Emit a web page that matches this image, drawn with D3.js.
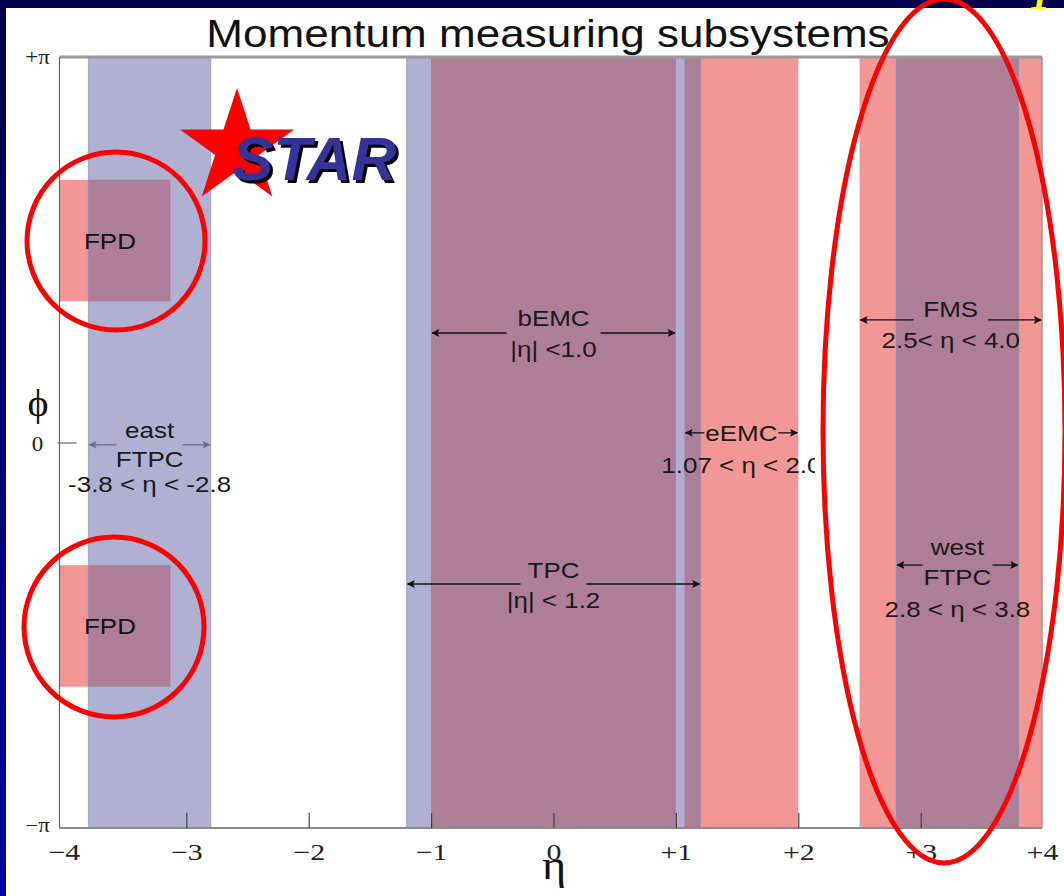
<!DOCTYPE html>
<html>
<head>
<meta charset="utf-8">
<script src="https://cdn.jsdelivr.net/npm/d3@7/dist/d3.min.js"></script>
<style>
  html, body { margin: 0; padding: 0; background: #000060; }
  svg { display: block; }
</style>
</head>
<body>
<svg id="chart" width="1064" height="896"></svg>
<script>
const PI = Math.PI;

// ---- data ----
const chartTitle = "Momentum measuring subsystems";
// tracking detectors (full azimuth)
const trackerNames  = ["east FTPC", "TPC", "west FTPC"];
const trackerEtaMin = [-3.8, -1.2, 2.8];
const trackerEtaMax = [-2.8,  1.2, 3.8];
// calorimeters
const caloNames  = ["bEMC", "eEMC", "FMS", "FPD", "FPD"];
const caloEtaMin = [-1.0, 1.07, 2.5, -4.05, -4.05];
const caloEtaMax = [ 1.0, 2.0,  4.0, -3.13, -3.13];
const caloPhiMin = [-PI, -PI, -PI, 1.15, -1.99];
const caloPhiMax = [ PI,  PI,  PI, 2.14, -1.00];
// annotation labels
const annoName    = ["bEMC", "TPC", "east FTPC", "eEMC", "FMS", "west FTPC"];
const annoEtaMin  = [-1.0, -1.2, -3.8, 1.07, 2.5, 2.8];
const annoEtaMax  = [ 1.0,  1.2, -2.8, 2.0,  4.0, 3.8];
const annoLines   = [
  ["bEMC", "|η| <1.0"],
  ["TPC", "|η| < 1.2"],
  ["east", "FTPC", "-3.8 < η < -2.8"],
  ["eEMC", "1.07 < η < 2.0"],
  ["FMS", "2.5< η < 4.0"],
  ["west", "FTPC", "2.8 < η < 3.8"]
];
// axis ticks
const xTickValues = [-4, -3, -2, -1, 0, 1, 2, 3, 4];
const xTickLabels = ["\u22124", "\u22123", "\u22122", "\u22121", "0", "+1", "+2", "+3", "+4"];
const yTickValues = [-PI, 0, PI];
const yTickLabels = ["\u2212\u03c0", "0", "+\u03c0"];

// ---- layout ----
const W = 1064, H = 896;
const plot = { left: 59.5, right: 1042, top: 57, bottom: 828 };
const colBlue = "rgb(176,176,210)";
const colPink = "rgb(242,150,150)";
const colPurple = "rgb(174,125,152)";
const SX = 1.18; // horizontal stretch of chart text
const FS = 22;
// annotation layout: arrow level (phi in units of pi), half gap, text baseline offsets
const annoLayout = [
  { phi: 0.284, gap: 47, dy: [-7, 24], col: "#111" },
  { phi: -0.367, gap: 33, dy: [-6, 24], col: "#111" },
  { phi: -0.006, gap: 33, dy: [-7, 22, 47], col: "#707090" },
  { phi: 0.025, gap: 37, dy: [8, 40], col: "#111" },
  { phi: 0.318, gap: 37, dy: [-3, 28], col: "#111" },
  { phi: -0.318, gap: 35, dy: [-10, 20, 52], col: "#111" }
];

const svg = d3.select("#chart");
const defs = svg.append("defs");

const bg = defs.append("linearGradient").attr("id", "navy").attr("x1", 0).attr("y1", 0).attr("x2", 0).attr("y2", 1);
bg.append("stop").attr("offset", "0%").attr("stop-color", "#00004e");
bg.append("stop").attr("offset", "100%").attr("stop-color", "#00009c");

["arrowBlack", "arrowGray"].forEach((id, i) => {
  defs.append("marker").attr("id", id)
    .attr("viewBox", "0 -5 10 10").attr("refX", 9).attr("refY", 0)
    .attr("markerWidth", 10).attr("markerHeight", 8).attr("markerUnits", "userSpaceOnUse")
    .attr("orient", "auto-start-reverse")
    .append("path").attr("d", "M0,-5L10,0L0,5L2,0Z")
    .attr("fill", i === 0 ? "#111" : "#707090");
});
defs.append("clipPath").attr("id", "eemcClip").append("rect")
  .attr("x", 0).attr("y", 0).attr("width", 815).attr("height", H);

// slide background
svg.append("rect").attr("width", W).attr("height", H).attr("fill", "url(#navy)");
svg.append("rect").attr("x", 6).attr("y", 8).attr("width", W - 6).attr("height", H - 8).attr("fill", "#fff");

const x = d3.scaleLinear().domain([-4.036, 3.991]).range([plot.left, plot.right]).clamp(true);
const y = d3.scaleLinear().domain([-PI, PI]).range([plot.bottom, plot.top]);

// title
svg.append("text")
  .attr("transform", `translate(548,47) scale(1.13,1)`)
  .attr("text-anchor", "middle")
  .attr("font-family", "Liberation Sans, Arial, sans-serif")
  .attr("font-size", 39).attr("fill", "#111")
  .text(chartTitle);

const gPlot = svg.append("g");

const calo = caloNames.map((n, i) => ({ n, e0: caloEtaMin[i], e1: caloEtaMax[i], p0: caloPhiMin[i], p1: caloPhiMax[i] }));
const trk = trackerNames.map((n, i) => ({ n, e0: trackerEtaMin[i], e1: trackerEtaMax[i], p0: -PI, p1: PI }));

// calorimeters (pink)
gPlot.selectAll("rect.calo").data(calo).join("rect").attr("class", "calo")
  .attr("x", d => x(d.e0)).attr("width", d => x(d.e1) - x(d.e0))
  .attr("y", d => y(d.p1)).attr("height", d => y(d.p0) - y(d.p1))
  .attr("fill", colPink);

// trackers (blue)
gPlot.selectAll("rect.trk").data(trk).join("rect").attr("class", "trk")
  .attr("x", d => x(d.e0)).attr("width", d => x(d.e1) - x(d.e0))
  .attr("y", d => y(d.p1)).attr("height", d => y(d.p0) - y(d.p1))
  .attr("fill", colBlue);

// overlaps (purple)
const overlaps = [];
trk.forEach(t => calo.forEach(c => {
  const e0 = Math.max(t.e0, c.e0), e1 = Math.min(t.e1, c.e1);
  const p0 = Math.max(t.p0, c.p0), p1 = Math.min(t.p1, c.p1);
  if (e1 > e0 && p1 > p0) overlaps.push({ e0, e1, p0, p1 });
}));
gPlot.selectAll("rect.ov").data(overlaps).join("rect").attr("class", "ov")
  .attr("x", d => x(d.e0)).attr("width", d => x(d.e1) - x(d.e0))
  .attr("y", d => y(d.p1)).attr("height", d => y(d.p0) - y(d.p1))
  .attr("fill", colPurple);

// subtle band edges
gPlot.selectAll("line.edge").data(trk.flatMap(d => [d.e0, d.e1])).join("line").attr("class", "edge")
  .attr("x1", d => x(d)).attr("x2", d => x(d)).attr("y1", plot.top).attr("y2", plot.bottom)
  .attr("stroke", "#8a8aa0").attr("stroke-opacity", 0.6).attr("stroke-width", 1);

// frame
svg.append("line").attr("x1", plot.left).attr("x2", plot.right).attr("y1", plot.top).attr("y2", plot.top)
  .attr("stroke", "#9a9a9a").attr("stroke-width", 3);
svg.append("line").attr("x1", plot.left).attr("x2", plot.right).attr("y1", plot.bottom).attr("y2", plot.bottom)
  .attr("stroke", "#8a8a8a").attr("stroke-width", 2);
svg.append("line").attr("x1", plot.left).attr("x2", plot.left).attr("y1", plot.top).attr("y2", plot.bottom)
  .attr("stroke", "#666").attr("stroke-width", 1.2);
svg.append("line").attr("x1", plot.right).attr("x2", plot.right).attr("y1", plot.top).attr("y2", plot.bottom)
  .attr("stroke", "#999").attr("stroke-width", 1.5);

// axes
const xAxis = d3.axisBottom(x).tickValues(xTickValues)
  .tickFormat((d, i) => xTickLabels[i]).tickSizeInner(-15).tickSizeOuter(0);
const gx = svg.append("g").attr("transform", `translate(0,${plot.bottom})`).call(xAxis);
gx.select(".domain").remove();
gx.selectAll(".tick line").attr("stroke", "#444").attr("stroke-width", 1.2)
  .attr("display", d => (d === -4 || d === 4) ? "none" : null);
gx.selectAll(".tick text")
  .attr("font-family", "Liberation Serif, Times New Roman, serif").attr("font-size", 23).attr("fill", "#222")
  .attr("y", 0).attr("dy", 0)
  .attr("transform", "translate(0,32) scale(1.3,1)");

const yAxis = d3.axisLeft(y).tickValues(yTickValues)
  .tickFormat((d, i) => yTickLabels[i]).tickSizeInner(-17).tickSizeOuter(0);
const gy = svg.append("g").attr("transform", `translate(${plot.left},0)`).call(yAxis);
gy.select(".domain").remove();
gy.selectAll(".tick line").attr("stroke", "#666").attr("stroke-width", 1.2)
  .attr("display", d => d === 0 ? null : "none")
  .attr("x1", -2);
gy.selectAll(".tick text")
  .attr("font-family", "Liberation Serif, Times New Roman, serif").attr("font-size", 20).attr("fill", "#222")
  .attr("text-anchor", "middle").attr("x", 0).attr("dy", 0)
  .attr("transform", d => `translate(-22,${d === PI ? 6 : (d === -PI ? 3 : 8)}) scale(1.15,1)`);

// axis titles
svg.append("text").attr("transform", `translate(554,879) scale(1.1,1)`).attr("text-anchor", "middle")
  .attr("font-family", "Liberation Serif, Times New Roman, serif").attr("font-size", 42).attr("fill", "#111")
  .text("\u03b7");
svg.append("text").attr("transform", `translate(38,416) scale(1.05,1)`).attr("text-anchor", "middle")
  .attr("font-family", "Liberation Serif, Times New Roman, serif").attr("font-size", 38).attr("fill", "#111")
  .text("\u03d5");

// FPD labels
const fpd = calo.filter(d => d.n === "FPD");
svg.selectAll("text.fpd").data(fpd).join("text").attr("class", "fpd")
  .attr("transform", d => `translate(${(x(d.e0) + x(d.e1)) / 2 - 5},${(y(d.p0) + y(d.p1)) / 2 + 8}) scale(${SX},1)`)
  .attr("text-anchor", "middle")
  .attr("font-family", "Liberation Sans, Arial, sans-serif").attr("font-size", FS).attr("fill", "#111")
  .text(d => d.n);

// annotations
annoName.forEach((name, i) => {
  const L = annoLayout[i];
  const x0 = x(annoEtaMin[i]), x1 = x(annoEtaMax[i]);
  const cx = (x0 + x1) / 2;
  const ay = y(L.phi * PI);
  const marker = L.col === "#111" ? "url(#arrowBlack)" : "url(#arrowGray)";
  const g = svg.append("g");
  if (name === "eEMC") g.attr("clip-path", "url(#eemcClip)");
  g.append("line").attr("x1", cx - L.gap).attr("x2", x0 + 1).attr("y1", ay).attr("y2", ay)
    .attr("stroke", L.col).attr("stroke-width", 1.3).attr("marker-end", marker);
  g.append("line").attr("x1", cx + L.gap).attr("x2", x1 - 1).attr("y1", ay).attr("y2", ay)
    .attr("stroke", L.col).attr("stroke-width", 1.3).attr("marker-end", marker);
  annoLines[i].forEach((t, j) => {
    g.append("text")
      .attr("transform", `translate(${cx},${ay + L.dy[j]}) scale(${SX},1)`)
      .attr("text-anchor", "middle")
      .attr("font-family", "Liberation Sans, Arial, sans-serif").attr("font-size", FS).attr("fill", "#1a1a1a")
      .text(t);
  });
});

// STAR logo
const starCx = 237, starCy = 148, Ro = 60, Ri = 23;
const starPts = d3.range(10).map(k => {
  const a = -PI / 2 + k * PI / 5, r = k % 2 === 0 ? Ro : Ri;
  return [starCx + r * Math.cos(a), starCy + r * Math.sin(a)];
});
svg.append("path").attr("d", d3.line()(starPts) + "Z").attr("fill", "#ff0000");
const starText = svg.append("g").attr("font-family", "Liberation Sans, Arial, sans-serif")
  .attr("font-weight", "bold").attr("font-style", "italic").attr("font-size", 62);
starText.append("text").attr("x", 235).attr("y", 183).attr("fill", "#000").text("STAR");
starText.append("text").attr("x", 232).attr("y", 180).attr("fill", "#333399").text("STAR");

// red highlight circles / ellipse
const rings = [
  { cx: 116, cy: 241, rx: 89, ry: 89 },
  { cx: 114, cy: 627, rx: 90, ry: 90 },
  { cx: 944, cy: 431, rx: 121, ry: 432 }
];
svg.selectAll("ellipse.ring").data(rings).join("ellipse").attr("class", "ring")
  .attr("cx", d => d.cx).attr("cy", d => d.cy).attr("rx", d => d.rx).attr("ry", d => d.ry)
  .attr("fill", "none").attr("stroke", "#ff0000").attr("stroke-width", 5);

// slide page number fragment (yellow)
svg.append("text").attr("x", 1030).attr("y", 9)
  .attr("font-family", "Liberation Serif, Times New Roman, serif").attr("font-style", "italic").attr("font-weight", "bold")
  .attr("font-size", 40).attr("fill", "#ffff00").text("1");
</script>
</body>
</html>
